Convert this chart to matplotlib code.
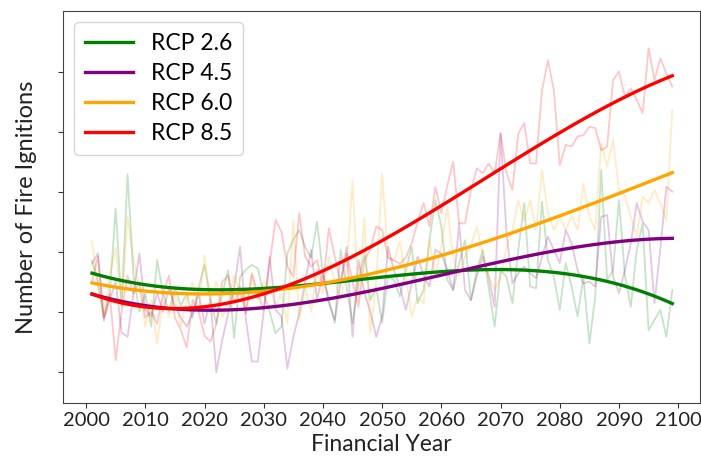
import numpy as np
import matplotlib
matplotlib.use("Agg")
import matplotlib.pyplot as plt

plt.rcParams['font.family'] = ['Lato', 'DejaVu Sans']

years = list(range(2001, 2100))

rcp26 = [2.85, 2.5, 1.9, 2.3, 3.72, 2.1, 4.29, 2.6, 2.0, 2.3,
         1.75, 2.86, 2.3, 2.0, 2.4, 2.1, 2.3, 1.9, 2.4, 2.78,
         2.2, 1.8, 2.3, 2.69, 1.56, 2.58, 2.7, 2.78, 2.72, 2.3,
         2.0, 1.64, 1.75, 2.97, 3.2, 3.36, 3.08, 2.9, 3.5, 2.64,
         2.2, 1.81, 3.03, 2.4, 1.81, 2.5, 2.97, 2.19, 2.4, 1.81,
         2.58, 2.53, 2.25, 2.69, 3.08, 2.14, 2.36, 3.2, 3.86, 3.42,
         2.53, 2.36, 2.8, 3.19, 2.19, 2.69, 3.03, 2.4, 1.75, 2.69,
         2.58, 2.14, 3.03, 3.81, 2.42, 2.39, 3.83, 2.86, 2.58, 2.03,
         2.81, 2.42, 1.92, 2.58, 1.47, 2.25, 4.36, 2.53, 2.69, 3.86,
         2.6, 2.08, 3.03, 3.47, 1.69, 1.86, 2.03, 1.58, 2.36]

rcp45 = [2.8, 2.97, 1.85, 2.2, 2.5, 1.65, 1.58, 2.3, 2.97, 2.03,
         1.92, 2.31, 2.0, 2.4, 2.1, 1.9, 1.75, 1.97, 2.3, 1.8,
         2.2, 0.99, 1.53, 1.97, 2.4, 3.08, 1.86, 1.17, 1.17, 2.0,
         2.92, 2.03, 1.92, 1.05, 1.58, 1.97, 2.5, 3.03, 2.2, 2.64,
         2.14, 1.86, 2.5, 3.08, 1.58, 2.86, 2.31, 2.0, 1.58, 1.92,
         3.08, 2.69, 2.42, 2.03, 2.47, 2.92, 2.6, 2.42, 3.03, 2.97,
         2.7, 2.36, 3.47, 2.36, 2.19, 2.6, 2.92, 2.58, 2.08, 4.97,
         3.31, 2.47, 2.64, 2.75, 2.64, 2.56, 2.9, 3.25, 3.03, 2.81,
         3.36, 3.14, 2.69, 2.47, 2.5, 2.42, 3.58, 3.61, 2.58, 2.31,
         2.69, 3.14, 3.81, 3.5, 3.36, 2.14, 3.06, 4.08, 4.0]

rcp60 = [3.17, 2.42, 1.92, 2.6, 3.08, 2.08, 3.58, 2.86, 2.4, 1.75,
         2.19, 1.47, 2.19, 1.92, 2.3, 1.75, 2.2, 2.5, 2.0, 2.94,
         2.19, 2.5, 1.9, 2.14, 2.6, 2.3, 2.0, 2.6, 2.2, 2.5,
         2.4, 2.1, 2.3, 1.8, 3.53, 1.86, 2.4, 2.0, 2.7, 2.3,
         2.9, 2.5, 2.2, 2.7, 4.17, 2.19, 3.56, 1.64, 2.5, 4.3,
         2.9, 2.86, 3.17, 2.58, 1.92, 2.25, 2.14, 3.19, 2.58, 3.1,
         3.75, 2.9, 2.58, 2.92, 3.1, 3.42, 2.92, 2.6, 2.36, 2.58,
         3.08, 3.36, 3.86, 3.5, 3.86, 3.36, 4.36, 3.64, 3.36, 3.58,
         3.36, 3.6, 3.36, 4.14, 3.58, 3.36, 4.81, 4.42, 4.86, 4.03,
         3.92, 3.58, 3.25, 3.92, 3.81, 4.03, 3.8, 3.53, 5.36]

rcp85 = [2.5, 2.92, 1.9, 2.3, 1.19, 2.0, 2.6, 2.3, 2.5, 1.9,
         2.0, 1.8, 2.3, 2.6, 1.9, 1.7, 1.4, 2.2, 2.0, 1.6,
         1.5, 1.8, 2.5, 2.6, 2.14, 2.42, 1.97, 2.64, 2.3, 2.03,
         2.8, 3.53, 3.33, 2.75, 2.58, 3.64, 2.92, 2.75, 2.86, 2.42,
         3.39, 2.92, 2.47, 2.97, 2.5, 2.08, 2.86, 3.03, 3.42, 3.36,
         2.9, 2.85, 2.8, 2.9, 3.14, 3.5, 3.81, 3.42, 4.08, 3.64,
         4.1, 4.5, 3.47, 3.47, 4.03, 4.39, 4.31, 4.47, 4.3, 4.97,
         4.31, 4.03, 4.97, 5.14, 4.47, 4.47, 5.69, 6.19, 5.69, 4.44,
         4.78, 4.75, 4.92, 4.94, 5.08, 5.06, 4.69, 4.75, 5.86, 6.0,
         5.58, 5.72, 5.53, 5.31, 6.39, 5.86, 6.22, 5.97, 5.75]

# trend values
trend_years = [2001, 2010, 2020, 2030, 2040, 2050, 2060, 2070, 2080, 2090, 2099]
trend26 = [2.65, 2.44, 2.36, 2.39, 2.47, 2.58, 2.67, 2.71, 2.64, 2.43, 2.15]
trend45 = [2.29, 2.11, 2.02, 2.07, 2.19, 2.39, 2.61, 2.83, 3.03, 3.17, 3.22]
trend60 = [2.47, 2.35, 2.31, 2.34, 2.46, 2.67, 2.93, 3.25, 3.61, 3.97, 4.31]
trend85 = [2.32, 2.06, 2.05, 2.25, 2.75, 3.25, 3.72, 4.36, 4.97, 5.53, 5.94]

labels = ['RCP 2.6', 'RCP 4.5', 'RCP 6.0', 'RCP 8.5']
colors = ['green', 'purple', 'orange', 'red']
raw = [rcp26, rcp45, rcp60, rcp85]
trends = [trend26, trend45, trend60, trend85]

fig = plt.figure(figsize=(7.01, 4.57), dpi=100)
ax = fig.add_axes([63 / 701, (457 - 402.7) / 457, (699.5 - 63) / 701, (402.7 - 11) / 457])

yrs = np.array(years)
for r, c in zip(raw, colors):
    ax.plot(years, r, color=c, alpha=0.22, lw=1.3)

for t, c, lab in zip(trends, colors, labels):
    coef = np.polyfit(trend_years, t, 3)
    ax.plot(yrs, np.polyval(coef, yrs), color=c, lw=2.4, label=lab)

ax.set_xlim(1996.1, 2103.6)
ax.set_ylim(0.483, 7.01)
ax.set_xticks(range(2000, 2101, 10))
ax.set_yticks([1, 2, 3, 4, 5, 6])
ax.set_yticklabels([])
ax.tick_params(axis='x', labelsize=14.5, colors='#333333', labelcolor='#222222')
ax.tick_params(axis='y', colors='#333333')
for s in ax.spines.values():
    s.set_color('#444444')
ax.set_xlabel('Financial Year', fontsize=16.5, color='#222222', labelpad=3)
ax.set_ylabel('Number of Fire Ignitions', fontsize=17, color='#222222', labelpad=12)

ax.legend(loc='upper left', fontsize=16.5, handlelength=2.1, labelspacing=0.4,
          borderpad=0.45, handletextpad=0.8, borderaxespad=0.5,
          bbox_to_anchor=(0.0, 1.0))

fig.savefig('out.png', dpi=100)
